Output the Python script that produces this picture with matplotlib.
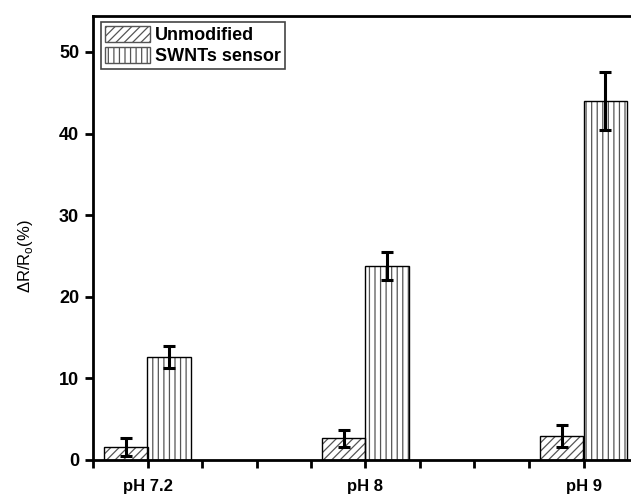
import matplotlib
matplotlib.use("Agg")
from matplotlib import pyplot as plt
from matplotlib.patches import Patch

plt.rcParams['font.family'] = ['Liberation Sans', 'DejaVu Sans']
plt.rcParams['hatch.linewidth'] = 0.9

# данные
groups = ["pH 7.2", "pH 8", "pH 9"]
group_pos = [1, 5, 9]
unmod = [1.65, 2.65, 2.95]
unmod_err = [1.1, 1.0, 1.3]
swnt = [12.6, 23.8, 44.0]
swnt_err = [1.35, 1.7, 3.5]

fig = plt.figure(figsize=(6.31, 4.99), dpi=100)
ax = fig.add_axes([93 / 631, 39 / 499, 538 / 631, 444 / 499])

w = 0.8
x_un = [p - w / 2 for p in group_pos]
x_sw = [p + w / 2 for p in group_pos]

# штриховка серым, контур чёрным
ax.bar(x_un, unmod, w, color='white', edgecolor='#555555', hatch='////', linewidth=0, zorder=2)
ax.bar(x_un, unmod, w, color='none', edgecolor='black', linewidth=1.0, zorder=3)
ax.bar(x_sw, swnt, w, color='white', edgecolor='#555555', hatch='|||', linewidth=0, zorder=2)
ax.bar(x_sw, swnt, w, color='none', edgecolor='black', linewidth=1.0, zorder=3)

ax.errorbar(x_un, unmod, yerr=unmod_err, fmt='none', ecolor='black',
            elinewidth=2.2, capsize=4, capthick=2.2, zorder=4)
ax.errorbar(x_sw, swnt, yerr=swnt_err, fmt='none', ecolor='black',
            elinewidth=2.2, capsize=4, capthick=2.2, zorder=4)

ax.set_xlim(0, 538 / 54.5)
ax.set_ylim(0, 444 / 8.16)
ax.set_xticks(range(0, 10))
ax.set_xticklabels(["" if i not in group_pos else groups[group_pos.index(i)] for i in range(10)],
                   fontsize=12, fontweight='bold')
ax.set_yticks([0, 10, 20, 30, 40, 50])
ax.set_yticklabels(["0", "10", "20", "30", "40", "50"], fontsize=13, fontweight='bold')
ax.tick_params(axis='both', direction='out', length=6, width=2)
ax.tick_params(axis='x', pad=8)
ax.tick_params(axis='y', pad=4)
for s in ['left', 'bottom', 'top']:
    ax.spines[s].set_linewidth(2)
ax.spines['right'].set_visible(False)

ax.set_ylabel('ΔR/R$_\\mathregular{o}$(%)', fontsize=12)
ax.yaxis.set_label_coords(-0.107, 0.46)

handles = [
    Patch(facecolor='white', edgecolor='#555555', hatch='////'),
    Patch(facecolor='white', edgecolor='#555555', hatch='|||'),
]
leg = ax.legend(handles, ["Unmodified", "SWNTs sensor"], loc='upper left',
                bbox_to_anchor=(8 / 538, 0.986), borderaxespad=0, fancybox=False,
                edgecolor='#444444', framealpha=1, handlelength=2.5, handleheight=1.0,
                handletextpad=0.3, labelspacing=0.15, borderpad=0.2,
                prop={'weight': 'bold', 'size': 13})
leg.get_frame().set_linewidth(1.2)
for h in leg.legend_handles:
    h.set_linewidth(1.0)

fig.savefig("out.png", dpi=100)
